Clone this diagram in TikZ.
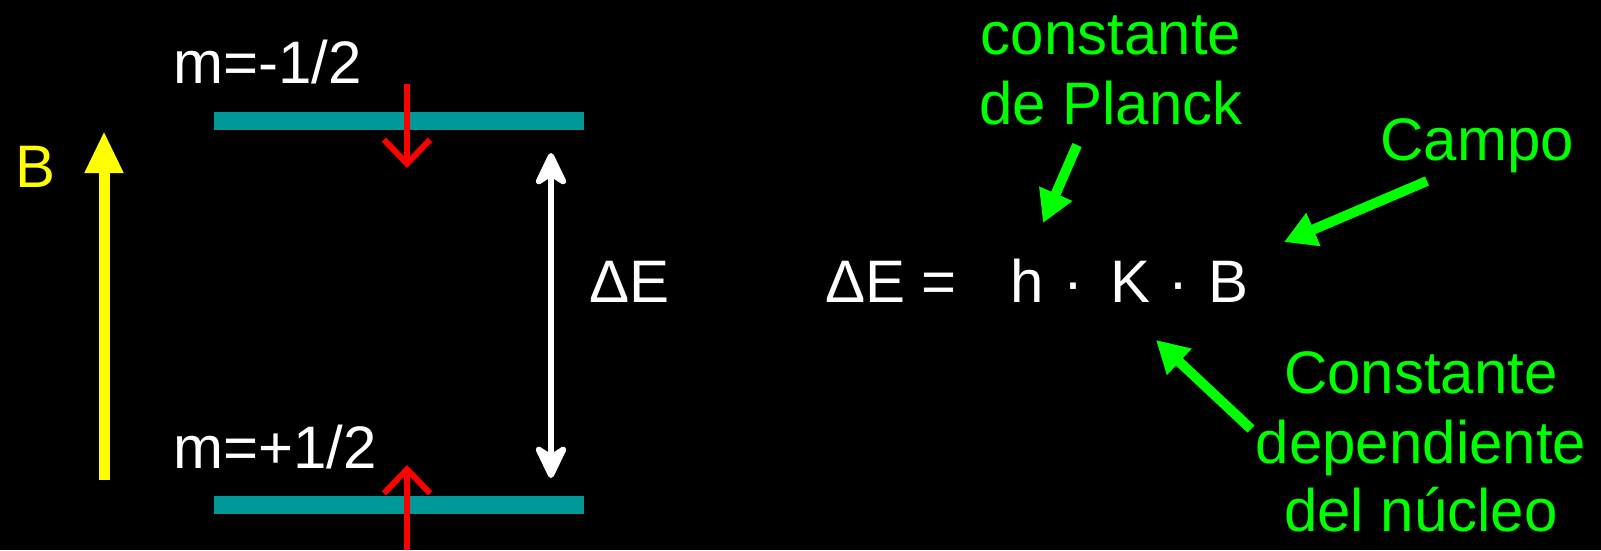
\documentclass[tikz,border=0pt]{standalone}
\usepackage{fontspec}
\setmainfont{Liberation Sans}
\usetikzlibrary{arrows.meta}
\definecolor{barteal}{HTML}{009999}
\definecolor{lgreen}{HTML}{00FF00}
\definecolor{ared}{HTML}{FF0000}
\definecolor{ayellow}{HTML}{FFFF00}
\begin{document}
\begin{tikzpicture}[x=1pt,y=-1pt,
  txt/.style={font=\fontsize{60}{66}\selectfont, inner sep=0pt},
  wtxt/.style={txt, text=white},
  gtxt/.style={txt, text=lgreen},
  ytxt/.style={txt, text=ayellow},
  bar/.style={fill=barteal, minimum width=370pt, minimum height=18pt, inner sep=0pt},
  spin/.style={draw=ared, line width=6pt, -{Straight Barb[length=24pt,width=46pt]}},
  field/.style={draw=ayellow, line width=11pt, -{Triangle[length=42pt,width=36pt]}},
  gap/.style={draw=white, line width=6pt, {Stealth[length=40pt,width=38pt,inset=12pt,round]}-{Stealth[length=40pt,width=38pt,inset=12pt,round]}},
  note/.style={draw=lgreen, line width=10pt, -{Triangle[length=32pt,width=34pt]}}
]
\fill[black] (0,0) rectangle (1601,550);
\useasboundingbox (0,0) rectangle (1601,550);

% energy levels
\node[bar] (top) at (399,121) {};
\node[bar] (bot) at (399,505) {};

% labels
\node[wtxt, anchor=base west] (mtop) at (173,83) {m=-1/2};
\node[wtxt, anchor=base west] (mbot) at (173,468) {m=+1/2};
\node[ytxt, anchor=base west] (Blab) at (15,187) {B};
\node[wtxt, anchor=base west] (dEl) at (589,302) {ΔE};

% spin arrows
\coordinate (s1a) at (407,84);
\coordinate (s1b) at (407,168);
\coordinate (s2a) at (407,550);
\coordinate (s2b) at (407,465);
\draw[spin] (s1a) -- (s1b);
\draw[spin] (s2a) -- (s2b);

% field arrow
\coordinate (fa) at (104,480);
\coordinate (fb) at (104,131);
\draw[field] (fa) -- (fb);

% energy gap arrow
\coordinate (ga) at (551,153);
\coordinate (gb) at (551,478);
\draw[gap] (ga) -- (gb);

% equation
\node[wtxt, anchor=base west] (eqL) at (825,302) {ΔE =};
\node[wtxt, anchor=base west] (h) at (1010,302) {h};
\node[wtxt, anchor=base] (d1) at (1073,302) {·};
\node[wtxt, anchor=base west] (K) at (1110,302) {K};
\node[wtxt, anchor=base] (d2) at (1178,302) {·};
\node[wtxt, anchor=base west] (B) at (1208,302) {B};

% green notes
\node[gtxt, anchor=base] (pl1) at (1111,54) {constante};
\node[gtxt, anchor=base] (pl2) at (1111,124) {de Planck};
\node[gtxt, anchor=base east] (campo) at (1574,160) {Campo};
\node[gtxt, anchor=base] (nu1) at (1421,393) {Constante};
\node[gtxt, anchor=base] (nu2) at (1421,463) {dependiente};
\node[gtxt, anchor=base] (nu3) at (1421,531) {del núcleo};

\coordinate (pa) at (1077,145);
\coordinate (pb) at (1043,223);
\coordinate (ca) at (1427,181);
\coordinate (cb) at (1284,242);
\coordinate (na) at (1251,429);
\coordinate (nb) at (1156,340);
\draw[note] (pa) -- (pb);
\draw[note] (ca) -- (cb);
\draw[note] (na) -- (nb);
\end{tikzpicture}
\end{document}
